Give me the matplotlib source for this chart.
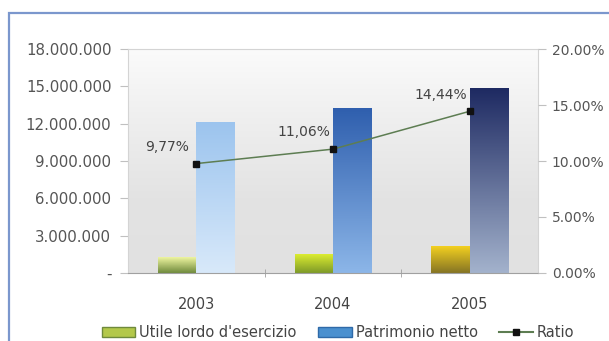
import numpy as np
import matplotlib.pyplot as plt
from matplotlib.colors import LinearSegmentedColormap
from matplotlib.patches import Rectangle, Patch
from matplotlib.lines import Line2D
from matplotlib.ticker import FuncFormatter

plt.rcParams['font.family'] = ['DejaVu Sans']

years = ['2003', '2004', '2005']
utile = [1280000, 1520000, 2120000]
patrimonio = [12080000, 13200000, 14800000]
ratio = [9.77, 11.06, 14.44]
ratio_labels = ['9,77%', '11,06%', '14,44%']

# top colour, bottom colour of each bar
utile_cols = [('#eef5a0', '#6f8a3c'), ('#dcec30', '#7d9a28'), ('#f3d020', '#857424')]
patr_cols = [('#9cc4ee', '#d8e9fa'), ('#2f5fae', '#8cb6e8'), ('#1e2a62', '#a3b2cc')]

fig = plt.figure(figsize=(6.09, 3.41), dpi=100)
fig.patch.set_facecolor('white')

# outer blue frame
fig.patches.append(Rectangle((9 / 609, -0.2), 1.2, 1.2 - 13 / 341,
                             transform=fig.transFigure, fill=False,
                             edgecolor='#7b97cd', linewidth=1.6))

ax = fig.add_axes([128 / 609, 68 / 341, 410 / 609, 224 / 341])
x = np.arange(len(years))
w = 0.28

# plot area background gradient
bg = LinearSegmentedColormap.from_list('bg', ['#e1e1e1', '#e3e3e3', '#eeeeee', '#fbfbfb'])
ax.imshow(np.linspace(0, 1, 256).reshape(-1, 1), cmap=bg, origin='lower',
          extent=[-0.5, 2.5, 0, 18000000], aspect='auto', zorder=0)


def gradient_bars(bars, cols):
    for b, (top, bottom) in zip(bars, cols):
        cm = LinearSegmentedColormap.from_list('g', [bottom, top])
        x0, y0 = b.get_x(), b.get_y()
        ax.imshow(np.linspace(0, 1, 128).reshape(-1, 1), cmap=cm, origin='lower',
                  extent=[x0, x0 + b.get_width(), y0, y0 + b.get_height()],
                  aspect='auto', zorder=2)


b1 = ax.bar(x - w / 2, utile, w, color='none', zorder=2)
b2 = ax.bar(x + w / 2, patrimonio, w, color='none', zorder=2)
gradient_bars(b1, utile_cols)
gradient_bars(b2, patr_cols)

ax.set_xlim(-0.5, 2.5)
ax.set_ylim(0, 18000000)
ax.set_yticks(np.arange(0, 18000001, 3000000))
ax.yaxis.set_major_formatter(FuncFormatter(
    lambda v, p: '-' if v == 0 else f'{int(v):,}'.replace(',', '.')))
ax.set_xticks(x)
ax.set_xticklabels(years)
ax.set_xticks([0.5, 1.5], minor=True)
ax.tick_params(axis='x', which='major', length=0, pad=17, labelsize=10.5, colors='#444444')
ax.tick_params(axis='x', which='minor', length=6, direction='inout', color='#a0a0a0')
ax.tick_params(axis='y', length=6, color='#c0c0c0', labelsize=10.8, colors='#555555', pad=6)
for s in ['left', 'top', 'right']:
    ax.spines[s].set_color('#d4d4d4')
ax.spines['bottom'].set_color('#a0a0a0')

ax2 = ax.twinx()
ax2.set_ylim(0, 20)
ax2.set_yticks([0, 5, 10, 15, 20])
ax2.yaxis.set_major_formatter(FuncFormatter(lambda v, p: f'{v:.2f}%'))
ax2.tick_params(axis='y', length=6, color='#c0c0c0', labelsize=10, colors='#555555', pad=4)
for s in ax2.spines.values():
    s.set_visible(False)

ax2.plot(x, ratio, color='#5d7d52', linewidth=1.1, marker='s', markersize=5,
         markerfacecolor='#111111', markeredgecolor='#111111', zorder=4)
for xi, r, lab in zip(x, ratio, ratio_labels):
    ax2.annotate(lab, (xi, r), xytext=(-21, 12), textcoords='offset points',
                 ha='center', va='center', fontsize=10, color='#444444')

handles = [Patch(facecolor='#b3c84a', edgecolor='#6f8a3c'),
           Patch(facecolor='#4a90cf', edgecolor='#2f6aa8'),
           Line2D([], [], color='#5d7d52', marker='s', markersize=4,
                  markerfacecolor='#111111', markeredgecolor='#111111')]
fig.legend(handles, ["Utile lordo d'esercizio", 'Patrimonio netto', 'Ratio'],
           loc='center', bbox_to_anchor=(0.555, 0.025), ncol=3, frameon=False,
           fontsize=10.5, handlelength=2.3, handleheight=0.7, handletextpad=0.25,
           columnspacing=1.5, labelcolor='#444444')

fig.savefig('out.png', dpi=100)
